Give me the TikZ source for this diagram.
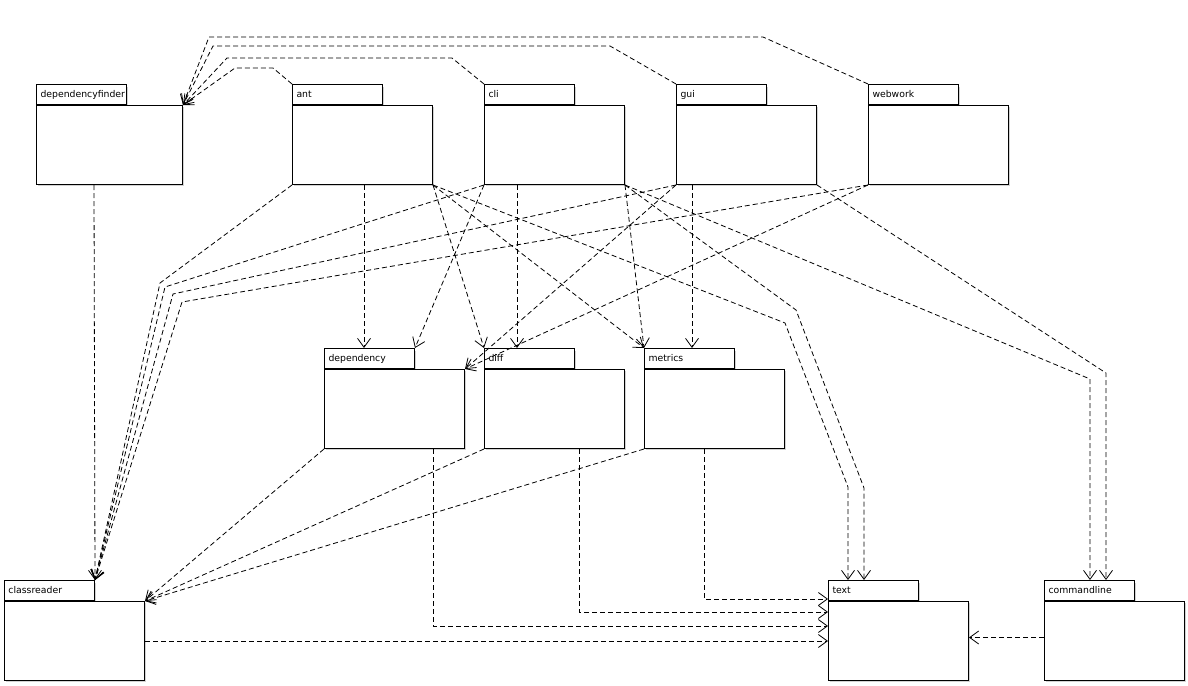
\documentclass[tikz,border=0pt]{standalone}
\usepackage{fontspec}
\setmainfont{DejaVu Sans}
\usetikzlibrary{arrows.meta,calc}
\begin{document}
\begin{tikzpicture}[x=1pt,y=-1pt,
  body/.style={draw,line width=1pt,fill=white,anchor=north west,inner sep=0pt,
    minimum width=140pt,minimum height=79pt},
  tabbox/.style={draw,line width=1pt,fill=white,anchor=south west,inner ysep=0pt,
    inner xsep=4pt,minimum height=20pt,text width=82pt,align=left,
    font=\fontsize{9.3}{10}\selectfont},
  dep/.style={draw,line width=0.8pt,dash pattern=on 5pt off 3pt,
    -{Straight Barb[length=9pt,width=13pt,line width=0.8pt]}}
]
\useasboundingbox (0,0) rectangle (1188,685);
\fill[white] (0,0) rectangle (1188,685);

% package = shadow + body + tab with its name
\newcommand\umlpkg[5]{% name, x, y, body width, label
  \fill[gray!35] (#2+1.5,#3-18.5) rectangle ++(90,20);
  \fill[gray!35] (#2+1.5,#3+1.5) rectangle ++(#4,79);
  \node[body,minimum width=#4 pt] (#1) at (#2,#3) {};
  \node[tabbox] (#1T) at (#1.north west) {#5};
}

\umlpkg{dfinder}{36}{105}{146}{dependencyfinder}
\umlpkg{ant}{292}{105}{140}{ant}
\umlpkg{cli}{484}{105}{140}{cli}
\umlpkg{gui}{676}{105}{140}{gui}
\umlpkg{webwork}{868}{105}{140}{webwork}
\umlpkg{dependency}{324}{369}{140}{dependency}
\umlpkg{diff}{484}{369}{140}{diff}
\umlpkg{metrics}{644}{369}{140}{metrics}
\umlpkg{classreader}{4}{601}{140}{classreader}
\umlpkg{text}{828}{601}{140}{text}
\umlpkg{commandline}{1044}{601}{140}{commandline}

% dependencies on dependencyfinder
\draw[dep] (antT.north west) -- (273,68) -- (235,68) -- (dfinder.north east);
\draw[dep] (cliT.north west) -- (452,58) -- (227,58) -- (dfinder.north east);
\draw[dep] (guiT.north west) -- (610,46) -- (213,46) -- (dfinder.north east);
\draw[dep] (webworkT.north west) -- (763,37) -- (209,37) -- (dfinder.north east);

% dependencies on classreader
\draw[dep] ($(dfinder.south west)+(58,0)$) -- (classreaderT.north east);
\draw[dep] (ant.south west) -- (160,283) -- (classreaderT.north east);
\draw[dep] (cli.south west) -- (165,287) -- (classreaderT.north east);
\draw[dep] (gui.south west) -- (173,294) -- (classreaderT.north east);
\draw[dep] (webwork.south west) -- (182,302) -- (classreaderT.north east);
\draw[dep] (dependency.south west) -- (classreader.north east);
\draw[dep] (diff.south west) -- (classreader.north east);
\draw[dep] (metrics.south west) -- (classreader.north east);

% dependencies on dependency
\draw[dep] ($(ant.south west)+(72,0)$) -- ($(dependencyT.north west)+(40,0)$);
\draw[dep] (cli.south west) -- (dependencyT.north east);
\draw[dep] (gui.south west) -- (dependency.north east);
\draw[dep] (webwork.south west) -- (dependency.north east);

% dependencies on diff
\draw[dep] (ant.south east) -- (diffT.north west);
\draw[dep] ($(cli.south west)+(33,0)$) -- ($(diffT.north west)+(33,0)$);

% dependencies on metrics
\draw[dep] (ant.south east) -- (metricsT.north west);
\draw[dep] (cli.south east) -- (metricsT.north west);
\draw[dep] ($(gui.south west)+(16,0)$) -- ($(metricsT.north west)+(48,0)$);

% dependencies on text
\draw[dep] (ant.south east) -- (785,323) -- (848,487) -- ($(textT.north west)+(20,0)$);
\draw[dep] (cli.south east) -- (796,310) -- (864,488) -- ($(textT.north west)+(36,0)$);
\draw[dep] ($(metrics.south west)+(60,0)$) |- ($(text.north west)+(0,-2)$);
\draw[dep] ($(diff.south west)+(95,0)$) |- ($(text.north west)+(0,11)$);
\draw[dep] ($(dependency.south west)+(109,0)$) |- ($(text.north west)+(0,25)$);
\draw[dep] (classreader.east) -- (text.west);
\draw[dep] ($(commandline.west)+(0,-3.5)$) -- ($(text.east)+(0,-3.5)$);

% dependencies on commandline
\draw[dep] (cli.south east) -- (1090,379) -- ($(commandlineT.north west)+(46,0)$);
\draw[dep] (gui.south east) -- (1106,373) -- ($(commandlineT.north west)+(62,0)$);
\end{tikzpicture}
\end{document}
